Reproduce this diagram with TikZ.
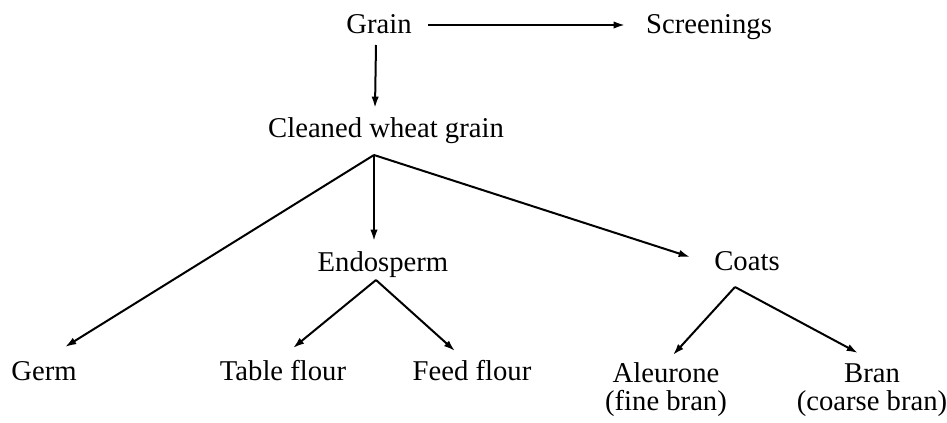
\documentclass[tikz,border=0pt]{standalone}
\usepackage{fontspec}
\setmainfont{Liberation Serif}
\usetikzlibrary{arrows.meta,calc}

\begin{document}
\begin{tikzpicture}[x=.75pt,y=-.75pt,
  lbl/.style={anchor=base,inner sep=0pt,align=center,font=\fontsize{21.5}{21}\selectfont},
  arr/.style={-{Latex[length=8.5pt,width=5.5pt]},line width=1.5pt}]
\useasboundingbox (0,0) rectangle (947,422);
\node[lbl] (grain) at (379,33){Grain};
\node[lbl] (screen) at (709,33){Screenings};
\node[lbl] (cwg) at (386,137){Cleaned wheat grain};
\node[lbl] (endo) at (383,271){Endosperm};
\node[lbl] (coats) at (747,270){Coats};
\node[lbl] (germ) at (44,380){Germ};
\node[lbl] (table) at (283,380){Table flour};
\node[lbl] (feed) at (472,380){Feed flour};
\node[lbl] (aleur) at (666,410){Aleurone\\(fine bran)};
\node[lbl] (bran) at (872,410){Bran\\(coarse bran)};
% forks under the parent labels
\coordinate (cwgfork) at ($(cwg.base)+(-12,18)$);
\coordinate (endofork) at ($(endo.base)+(-7,9)$);
\coordinate (coatsfork) at ($(coats.base)+(-12,17)$);
\draw[arr] ($(grain.base)+(49,-8)$)--($(screen.base)+(-84,-8)$);
\draw[arr] ($(grain.base)+(-3,12)$)--($(cwg.base)+(-11,-29)$);
\draw[arr] (cwgfork)--($(germ.base)+(21,-33)$);
\draw[arr] (cwgfork)--($(endo.base)+(-9,-30)$);
\draw[arr] (cwgfork)--($(coats.base)+(-57,-13)$);
\draw[arr] (endofork)--($(table.base)+(10,-32)$);
\draw[arr] (endofork)--($(feed.base)+(-17,-29)$);
\draw[arr] (coatsfork)--($(aleur.base)+(7,-55)$);
\draw[arr] (coatsfork)--($(bran.base)+(-14,-57)$);
\end{tikzpicture}
\end{document}
